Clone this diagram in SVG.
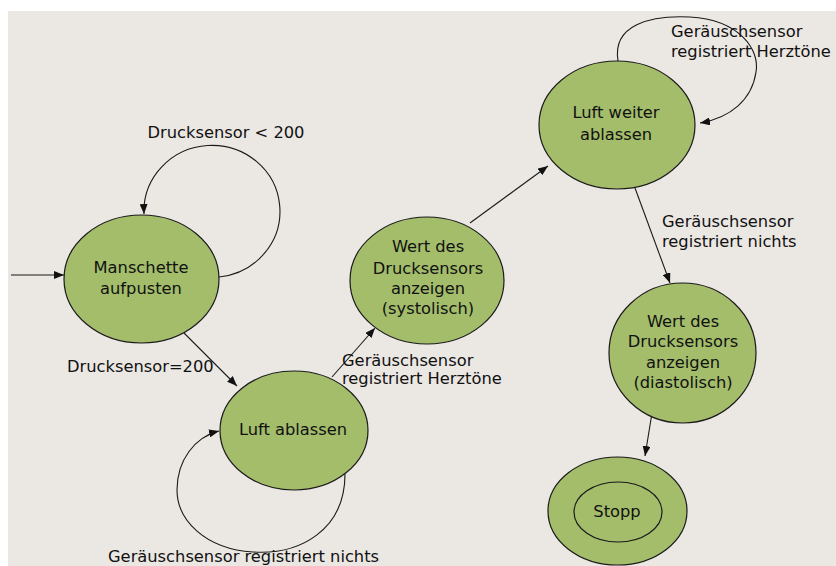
<svg xmlns="http://www.w3.org/2000/svg" width="836" height="566" viewBox="0 0 836 566">
<defs>
<style>
.node{fill:#A3BD6B;stroke:#1a1a1a;stroke-width:1.2}
.edge{fill:none;stroke:#1a1a1a;stroke-width:1.1;marker-end:url(#arr)}
text{font-family:"DejaVu Sans","Liberation Sans",sans-serif;font-size:16.3px;fill:#111}
.c{text-anchor:middle}
</style>
<marker id="arr" markerUnits="userSpaceOnUse" markerWidth="10" markerHeight="8" viewBox="0 0 10 8" refX="10" refY="4" orient="auto">
<path d="M0,0 L10,4 L0,8 z" fill="#111"/>
</marker>
</defs>
<rect x="0" y="0" width="836" height="566" fill="#ffffff"/>
<rect x="8" y="11" width="828" height="555" fill="#EBE7E3"/>

<g id="connectors">
<path class="edge" d="M11 275 L64 275"/>
<path class="edge" d="M219 277 A68 66 0 1 0 144 214"/>
<path class="edge" d="M184 333 L237 386"/>
<path class="edge" d="M345 474 C345 530 300 555 253 552 C205 549 177 520 177 490 C177 460 195 437 219 431"/>
<path class="edge" d="M332 377 L375 328"/>
<path class="edge" d="M470 223 L548 166"/>
<path class="edge" d="M618 61 C612 25 650 15 690 17 C740 20 760 50 756 72 C752 100 730 118 700 123"/>
<path class="edge" d="M635 188 L670 283"/>
<path class="edge" d="M652 413 L645 456"/>
<text class="c" x="226" y="138">Drucksensor &lt; 200</text>
<text x="67" y="372">Drucksensor=200</text>
<text x="342" y="366">Geräuschsensor</text>
<text x="342" y="384">registriert Herztöne</text>
<text x="671" y="37">Geräuschsensor</text>
<text x="671" y="57">registriert Herztöne</text>
<text x="662" y="227">Geräuschsensor</text>
<text x="662" y="247">registriert nichts</text>
<text x="108" y="562">Geräuschsensor registriert nichts</text>
</g>

<g id="manschette">
<ellipse class="node" cx="141.5" cy="279" rx="77.5" ry="64"/>
<text class="c" x="141" y="273">Manschette</text>
<text class="c" x="141" y="294">aufpusten</text>
</g>

<g id="luft-ablassen">
<ellipse class="node" cx="294" cy="430.5" rx="74" ry="59.5"/>
<text class="c" x="293" y="435">Luft ablassen</text>
</g>

<g id="systolisch">
<ellipse class="node" cx="427" cy="280.5" rx="77" ry="63.5"/>
<text class="c" x="428" y="252">Wert des</text>
<text class="c" x="428" y="274">Drucksensors</text>
<text class="c" x="428" y="294">anzeigen</text>
<text class="c" x="428" y="314">(systolisch)</text>
</g>

<g id="luft-weiter">
<ellipse class="node" cx="617" cy="125" rx="78" ry="64"/>
<text class="c" x="616" y="118">Luft weiter</text>
<text class="c" x="616" y="140">ablassen</text>
</g>

<g id="diastolisch">
<ellipse class="node" cx="682.5" cy="353" rx="73.5" ry="70"/>
<text class="c" x="683" y="327">Wert des</text>
<text class="c" x="683" y="347">Drucksensors</text>
<text class="c" x="683" y="368">anzeigen</text>
<text class="c" x="683" y="388">(diastolisch)</text>
</g>

<g id="stopp">
<ellipse class="node" cx="617.5" cy="511" rx="69.5" ry="54"/>
<ellipse class="node" cx="618" cy="512" rx="44" ry="30"/>
<text class="c" x="617" y="517">Stopp</text>
</g>
</svg>
